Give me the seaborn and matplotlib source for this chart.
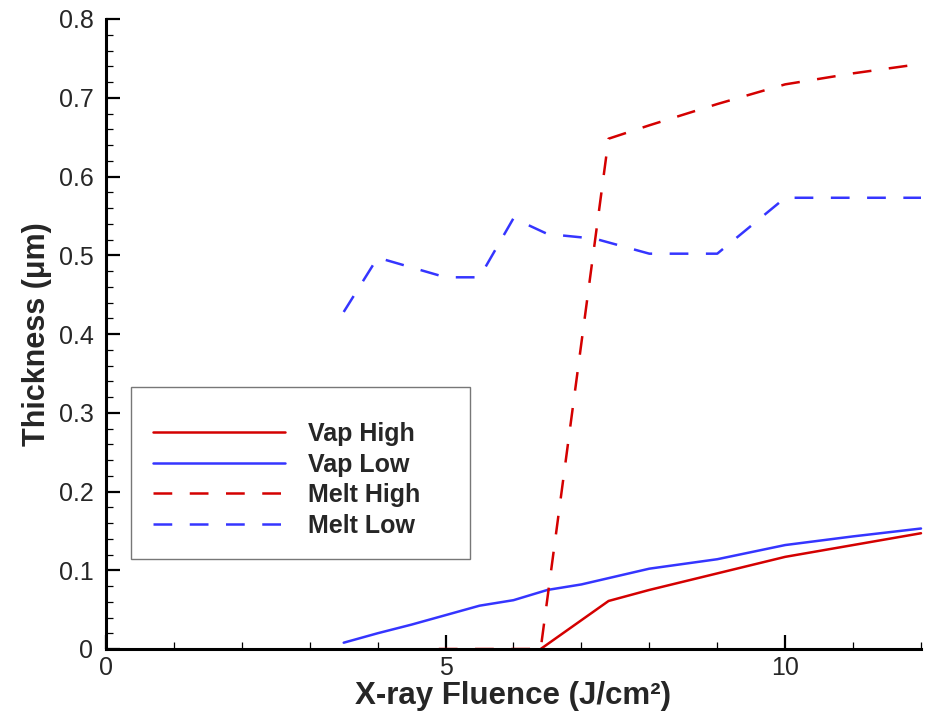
import numpy as np
import pandas as pd
import matplotlib
matplotlib.use('Agg')
import matplotlib.pyplot as plt
from matplotlib.ticker import MultipleLocator, FuncFormatter
import seaborn as sns

# fluence (J/cm2) and thickness (um)
vap_high_x = [6.4, 7.4, 8.0, 9.0, 10.0, 11.0, 12.0]
vap_high_y = [0.0, 0.061, 0.075, 0.096, 0.117, 0.132, 0.147]

vap_low_x = [3.5, 4.0, 4.5, 5.0, 5.5, 6.0, 6.5, 7.0, 7.5, 8.0, 9.0, 10.0, 11.0, 12.0]
vap_low_y = [0.008, 0.020, 0.031, 0.043, 0.055, 0.062, 0.075, 0.082, 0.092, 0.102, 0.114, 0.132, 0.143, 0.153]

melt_high_x = [4.9, 5.5, 6.0, 6.4, 7.4, 8.0, 9.0, 10.0, 11.0, 12.0]
melt_high_y = [0.0, 0.0, 0.0, 0.0, 0.648, 0.665, 0.692, 0.717, 0.731, 0.743]

melt_low_x = [3.5, 4.0, 5.0, 5.5, 6.0, 6.5, 7.2, 8.0, 9.0, 10.0, 12.0]
melt_low_y = [0.428, 0.497, 0.472, 0.472, 0.547, 0.527, 0.521, 0.502, 0.502, 0.573, 0.573]

labels = ['Vap High', 'Vap Low', 'Melt High', 'Melt Low']
red = '#d40000'
blue = '#3535ff'

series = [(vap_high_x, vap_high_y, labels[0]),
          (vap_low_x, vap_low_y, labels[1]),
          (melt_high_x, melt_high_y, labels[2]),
          (melt_low_x, melt_low_y, labels[3])]
df = pd.concat([pd.DataFrame({'x': xs, 'y': ys, 'series': name}) for xs, ys, name in series])

sns.set_style('ticks')
plt.rcParams['font.family'] = ['Liberation Sans', 'DejaVu Sans']

fig = plt.figure(figsize=(9.29, 7.11), dpi=100)
ax = fig.add_axes([106/929, 62/711, 815/929, 630/711])

palette = {labels[0]: red, labels[1]: blue, labels[2]: red, labels[3]: blue}
dashes = {labels[0]: '', labels[1]: '', labels[2]: (7.5, 7), labels[3]: (7.5, 7)}
sns.lineplot(data=df, x='x', y='y', hue='series', style='series', palette=palette,
             dashes=dashes, estimator=None, sort=False, linewidth=1.8, ax=ax, clip_on=False)

ax.set_xlim(0, 12)
ax.set_ylim(0, 0.8)
ax.xaxis.set_major_locator(MultipleLocator(5))
ax.xaxis.set_minor_locator(MultipleLocator(1))
ax.yaxis.set_major_locator(MultipleLocator(0.1))
ax.yaxis.set_minor_locator(MultipleLocator(0.02))
ax.yaxis.set_major_formatter(FuncFormatter(lambda v, p: '0' if abs(v) < 1e-9 else '%.1f' % v))
ax.xaxis.set_major_formatter(FuncFormatter(lambda v, p: '%d' % v))

for s in ['top', 'right']:
    ax.spines[s].set_visible(False)
for s in ['left', 'bottom']:
    ax.spines[s].set_linewidth(2.2)
    ax.spines[s].set_color('black')

ax.tick_params(which='major', direction='in', length=10, width=1.6, labelsize=18, color='black')
ax.tick_params(which='minor', direction='in', length=5, width=0.9, color='black')
ax.tick_params(axis='y', which='major', pad=9)
ax.tick_params(axis='x', which='major', pad=5)

ax.set_xlabel('X-ray Fluence (J/cm²)', fontsize=22.5, fontweight='bold', labelpad=1)
ax.set_ylabel('Thickness (μm)', fontsize=22, fontweight='bold', labelpad=5)

leg = ax.legend(loc='lower left', bbox_to_anchor=(0.031, 0.143, 0.416, 0.271), mode='expand',
                prop={'weight': 'bold', 'size': 18}, handlelength=5.3,
                handletextpad=0.9, labelspacing=0.26, borderpad=0.85, frameon=True,
                fancybox=False, borderaxespad=0, title=' ', title_fontsize=5)
leg.get_frame().set_edgecolor('#555555')
leg.get_frame().set_linewidth(1.0)

fig.savefig('out.png', dpi=100)
